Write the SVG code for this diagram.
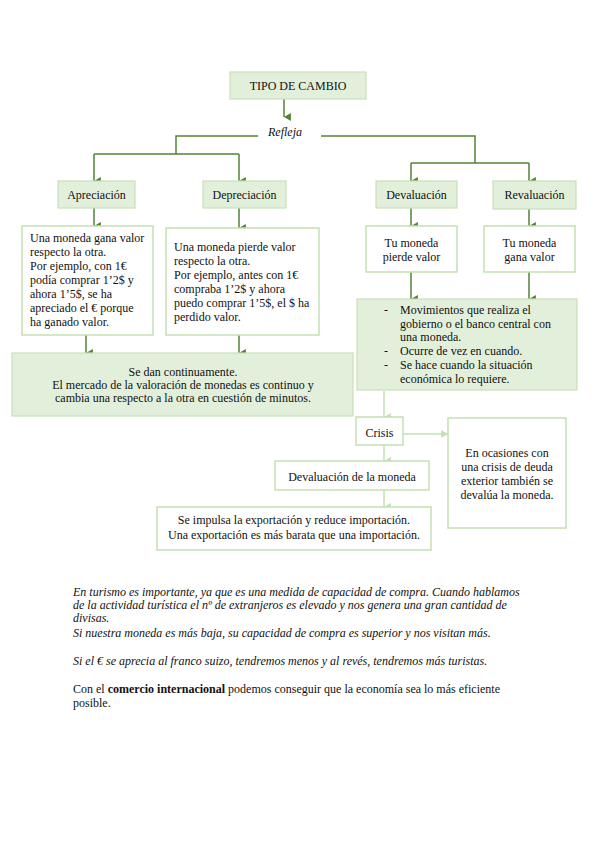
<svg xmlns="http://www.w3.org/2000/svg" width="599" height="848" viewBox="0 0 599 848" font-family="'Liberation Serif', 'Times New Roman', serif">
<defs>
<marker id="ad" markerUnits="userSpaceOnUse" markerWidth="8" markerHeight="8" refX="3.5" refY="6" orient="auto-start-reverse" viewBox="0 0 7 7">
<path d="M0,0 L7,0 L3.5,6 Z" fill="#548235"/>
</marker>
<marker id="al" markerUnits="userSpaceOnUse" markerWidth="8" markerHeight="8" refX="3.5" refY="6" orient="auto-start-reverse" viewBox="0 0 7 7">
<path d="M0,0 L7,0 L3.5,6 Z" fill="#c5e0b4"/>
</marker>
<marker id="alr" markerUnits="userSpaceOnUse" markerWidth="8" markerHeight="8" refX="6" refY="3.5" viewBox="0 0 7 7">
<path d="M0,0 L6,3.5 L0,7 Z" fill="#c5e0b4"/>
</marker>
</defs>
<style>
text{font-family:'Liberation Serif','Times New Roman',serif;font-size:12px;fill:#111}
.c{text-anchor:middle}
.g{fill:#e2efda;stroke:#c9e0b8;stroke-width:1.2}
.w{fill:#fff;stroke:#c5e0b4;stroke-width:1.5}
.dk{fill:none;stroke:#548235;stroke-width:1.5}
.lt{fill:none;stroke:#c5e0b4;stroke-width:1.5}
.i{font-style:italic}
</style>
<rect width="599" height="848" fill="#fff"/>
<g id="connectors">
<path class="dk" d="M284 99 V117" marker-end="url(#ad)"/>
<path class="dk" d="M258 136 H176 V154"/>
<path class="dk" d="M94 154 H239"/>
<path class="dk" d="M94 154 V181" marker-end="url(#ad)"/>
<path class="dk" d="M239 154 V181" marker-end="url(#ad)"/>
<path class="dk" d="M321 136 H475 V163"/>
<path class="dk" d="M411 163 H529"/>
<path class="dk" d="M411 163 V181" marker-end="url(#ad)"/>
<path class="dk" d="M529 163 V181" marker-end="url(#ad)"/>
<path class="dk" d="M94 208 V226" marker-end="url(#ad)"/>
<path class="dk" d="M239 208 V228" marker-end="url(#ad)"/>
<path class="dk" d="M411 208 V226" marker-end="url(#ad)"/>
<path class="dk" d="M529 209 V226" marker-end="url(#ad)"/>
<path class="dk" d="M411 272 V299" marker-end="url(#ad)"/>
<path class="dk" d="M529 272 V299" marker-end="url(#ad)"/>
<path class="dk" d="M86 335 V353" marker-end="url(#ad)"/>
<path class="dk" d="M239 335 V353" marker-end="url(#ad)"/>
<path class="lt" d="M384 391 V417" marker-end="url(#al)"/>
<path class="lt" d="M403 434 H448" marker-end="url(#alr)"/>
<path class="lt" d="M384 445 V461" marker-end="url(#al)"/>
<path class="lt" d="M384 490 V507" marker-end="url(#al)"/>
</g>
<g id="tipo">
<rect class="g" x="230" y="72" width="136" height="27"/>
<text class="c" x="298" y="90">TIPO DE CAMBIO</text>
</g>
<g id="refleja">
<text class="i" x="268" y="136">Refleja</text>
</g>
<g id="apreciacion">
<rect class="g" x="58" y="181" width="77" height="27"/>
<text class="c" x="96.5" y="198.5">Apreciación</text>
</g>
<g id="depreciacion">
<rect class="g" x="203" y="181" width="83" height="27"/>
<text class="c" x="244.5" y="198.5">Depreciación</text>
</g>
<g id="devaluacion">
<rect class="g" x="376" y="181" width="81" height="27"/>
<text class="c" x="416.5" y="198.5">Devaluación</text>
</g>
<g id="revaluacion">
<rect class="g" x="493" y="181" width="83" height="28"/>
<text class="c" x="534.5" y="198.5">Revaluación</text>
</g>
<g id="apreciacion-desc">
<rect class="w" x="22" y="226" width="131" height="109"/>
<text x="30" y="242">Una moneda gana valor</text>
<text x="30" y="256">respecto la otra.</text>
<text x="30" y="270">Por ejemplo, con 1€</text>
<text x="30" y="284">podía comprar 1’2$ y</text>
<text x="30" y="298">ahora 1’5$, se ha</text>
<text x="30" y="312">apreciado el € porque</text>
<text x="30" y="326">ha ganado valor.</text>
</g>
<g id="depreciacion-desc">
<rect class="w" x="166" y="228" width="153" height="107"/>
<text x="174" y="251">Una moneda pierde valor</text>
<text x="174" y="265">respecto la otra.</text>
<text x="174" y="279">Por ejemplo, antes con 1€</text>
<text x="174" y="293">compraba 1’2$ y ahora</text>
<text x="174" y="307">puedo comprar 1’5$, el $ ha</text>
<text x="174" y="321">perdido valor.</text>
</g>
<g id="continuamente">
<rect class="g" x="12" y="353" width="341" height="63"/>
<text class="c" x="183" y="376">Se dan continuamente.</text>
<text class="c" x="183" y="389">El mercado de la valoración de monedas es continuo y</text>
<text class="c" x="183" y="402">cambia una respecto a la otra en cuestión de minutos.</text>
</g>
<g id="pierde">
<rect class="w" x="366" y="226" width="91" height="46"/>
<text class="c" x="411.5" y="247">Tu moneda</text>
<text class="c" x="411.5" y="261">pierde valor</text>
</g>
<g id="gana">
<rect class="w" x="484" y="226" width="91" height="46"/>
<text class="c" x="529.5" y="247">Tu moneda</text>
<text class="c" x="529.5" y="261">gana valor</text>
</g>
<g id="movimientos">
<rect class="g" x="357" y="299" width="220" height="91"/>
<text x="384" y="314">-</text>
<text x="400" y="314">Movimientos que realiza el</text>
<text x="400" y="328">gobierno o el banco central con</text>
<text x="400" y="341">una moneda.</text>
<text x="384" y="355">-</text>
<text x="400" y="355">Ocurre de vez en cuando.</text>
<text x="384" y="369">-</text>
<text x="400" y="369">Se hace cuando la situación</text>
<text x="400" y="383">económica lo requiere.</text>
</g>
<g id="crisis">
<rect class="w" x="356" y="417" width="47" height="28"/>
<text class="c" x="379.5" y="437">Crisis</text>
</g>
<g id="ocasiones">
<rect class="w" x="448" y="418" width="118" height="110"/>
<text class="c" x="507" y="457">En ocasiones con</text>
<text class="c" x="507" y="471">una crisis de deuda</text>
<text class="c" x="507" y="485">exterior también se</text>
<text class="c" x="507" y="499">devalúa la moneda.</text>
</g>
<g id="devaluacion-moneda">
<rect class="w" x="275" y="461" width="154" height="29"/>
<text class="c" x="352" y="481">Devaluación de la moneda</text>
</g>
<g id="impulsa">
<rect class="w" x="157" y="507" width="274" height="43"/>
<text class="c" x="294" y="524">Se impulsa la exportación y reduce importación.</text>
<text class="c" x="294" y="539">Una exportación es más barata que una importación.</text>
</g>
<g id="notes">
<text class="i" x="73" y="596">En turismo es importante, ya que es una medida de capacidad de compra. Cuando hablamos</text>
<text class="i" x="73" y="609">de la actividad turística el nº de extranjeros es elevado y nos genera una gran cantidad de</text>
<text class="i" x="73" y="622">divisas.</text>
<text class="i" x="73" y="637">Si nuestra moneda es más baja, su capacidad de compra es superior y nos visitan más.</text>
<text class="i" x="73" y="665">Si el € se aprecia al franco suizo, tendremos menos y al revés, tendremos más turistas.</text>
<text x="73" y="693">Con el <tspan font-weight="bold">comercio internacional</tspan> podemos conseguir que la economía sea lo más eficiente</text>
<text x="73" y="707">posible.</text>
</g>
</svg>
